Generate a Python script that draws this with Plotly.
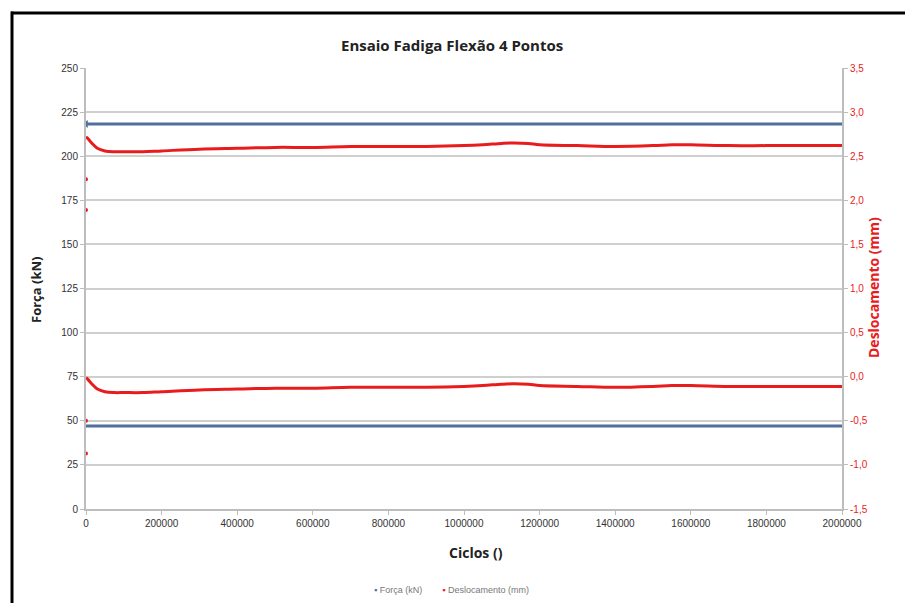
import plotly.graph_objects as go

# Cycle count at each logged sample
cycles = [0, 5000, 15000, 30000, 50000, 75000, 100000, 150000, 200000, 300000,
          400000, 500000, 600000, 700000, 800000, 900000, 1000000, 1050000,
          1100000, 1130000, 1170000, 1200000, 1300000, 1400000, 1500000,
          1550000, 1600000, 1700000, 1800000, 1900000, 2000000]

# Force peaks per cycle (kN)
force_max = [218.3] * len(cycles)
force_min = [47.0] * len(cycles)

# Displacement peaks per cycle (mm)
disp_max = [2.72, 2.70, 2.65, 2.59, 2.56, 2.55, 2.55, 2.55, 2.56, 2.58,
            2.59, 2.60, 2.60, 2.61, 2.61, 2.61, 2.62, 2.63,
            2.645, 2.65, 2.645, 2.63, 2.62, 2.61, 2.62,
            2.63, 2.63, 2.62, 2.62, 2.62, 2.62]
disp_min = [-0.01, -0.03, -0.08, -0.14, -0.17, -0.18, -0.18, -0.18, -0.17, -0.15,
            -0.14, -0.13, -0.13, -0.12, -0.12, -0.12, -0.11, -0.10,
            -0.085, -0.08, -0.085, -0.10, -0.11, -0.12, -0.11,
            -0.10, -0.10, -0.11, -0.11, -0.11, -0.11]

# Load-up readings logged at the start of the test
startup_cycles = [0, 0, 0, 0]
startup_disp = [2.24, 1.89, -0.50, -0.87]

series_names = ["Força (kN)", "Deslocamento (mm)"]

x_ticks = list(range(0, 2000001, 200000))
left_ticks = list(range(0, 251, 25))
right_ticks = [-1.5, -1.0, -0.5, 0.0, 0.5, 1.0, 1.5, 2.0, 2.5, 3.0, 3.5]
right_labels = [f"{v:.1f}".replace(".", ",") for v in right_ticks]

BLUE = "#4f6f9c"
RED = "#e81c1c"
GRID = "#cfcfcf"

fig = go.Figure()

for ys in (force_max, force_min):
    fig.add_trace(go.Scatter(x=cycles, y=ys, mode="lines", yaxis="y",
                             line=dict(color=BLUE, width=3), showlegend=False))
fig.add_trace(go.Scatter(x=[cycles[0]], y=[force_max[0]], mode="markers", yaxis="y",
                         marker=dict(symbol="triangle-left", size=7, color=BLUE),
                         showlegend=False))

for ys in (disp_max, disp_min):
    fig.add_trace(go.Scatter(x=cycles, y=ys, mode="lines", yaxis="y2",
                             line=dict(color=RED, width=3, shape="spline"),
                             showlegend=False))
fig.add_trace(go.Scatter(x=startup_cycles, y=startup_disp, mode="markers", yaxis="y2",
                         marker=dict(size=4, color=RED), showlegend=False))

tick_font = dict(family="Liberation Sans Narrow, Liberation Sans, sans-serif", size=10, color="#333333")
legend_font = dict(family="Liberation Sans Narrow, sans-serif", size=9, color="#777777")

# Compact legend row below the axis title
legend_row = (
    f"<span style='color:{BLUE}'>▪</span> {series_names[0]}"
    f"        <span style='color:{RED}'>▪</span> {series_names[1]}"
)


def px_x(px):
    return (px - 86) / 756


def px_y(py):
    return (509 - py) / 441


fig.update_layout(
    width=905, height=603,
    margin=dict(l=86, r=63, t=68, b=94, autoexpand=False),
    paper_bgcolor="white", plot_bgcolor="white",
    showlegend=False,
    xaxis=dict(range=[0, 2000000], tickvals=x_ticks, ticktext=[str(v) for v in x_ticks],
               showgrid=False, zeroline=False, showline=True, linecolor="#bdbdbd",
               linewidth=2, ticks="outside", ticklen=4, tickcolor="#bdbdbd",
               tickfont=tick_font),
    yaxis=dict(range=[0, 250], tickvals=left_ticks, showgrid=True, gridcolor=GRID,
               gridwidth=1.5, zeroline=False, showline=True, linecolor="#bdbdbd",
               linewidth=2, ticks="outside", ticklen=4, tickcolor="#bdbdbd",
               tickfont=tick_font),
    yaxis2=dict(range=[-1.5, 3.5], tickvals=right_ticks, ticktext=right_labels,
                overlaying="y", side="right", showgrid=False, zeroline=False,
                showline=True, linecolor="#bdbdbd", linewidth=2, ticks="outside",
                ticklen=4, tickcolor="#bdbdbd",
                tickfont=dict(family=tick_font["family"], size=10, color=RED)),
    annotations=[
        dict(text="<b>Ensaio Fadiga Flexão 4 Pontos</b>", xref="paper", yref="paper",
             x=px_x(339), y=px_y(45), xanchor="left", yanchor="middle",
             showarrow=False, font=dict(family="Open Sans, sans-serif", size=15, color="#222222")),
        dict(text="<b>Força (kN)</b>", xref="paper", yref="paper",
             x=px_x(36), y=px_y(290), textangle=-90,
             xanchor="center", yanchor="middle", showarrow=False,
             font=dict(family="Open Sans, sans-serif", size=13, color="#222222")),
        dict(text="<b>Deslocamento (mm)</b>", xref="paper", yref="paper",
             x=px_x(873), y=px_y(288), textangle=-90,
             xanchor="center", yanchor="middle", showarrow=False,
             font=dict(family="Open Sans, sans-serif", size=14, color=RED)),
        dict(text="<b>Ciclos ()</b>", xref="paper", yref="paper",
             x=px_x(476), y=px_y(552),
             xanchor="center", yanchor="middle", showarrow=False,
             font=dict(family="Open Sans, sans-serif", size=14, color="#222222")),
        dict(text=legend_row, xref="paper", yref="paper",
             x=px_x(372), y=px_y(590),
             xanchor="left", yanchor="middle", showarrow=False, font=legend_font),
    ],
    shapes=[
        # outer frame: filled bars along the top and left edges
        dict(type="rect", xref="paper", yref="paper",
             x0=px_x(11), x1=px_x(905), y0=px_y(14.5), y1=px_y(11.5),
             line=dict(width=0), fillcolor="black", layer="above"),
        dict(type="rect", xref="paper", yref="paper",
             x0=px_x(10.5), x1=px_x(13.5), y0=px_y(603), y1=px_y(11.5),
             line=dict(width=0), fillcolor="black", layer="above"),
    ],
)

fig.write_html("out.html")
